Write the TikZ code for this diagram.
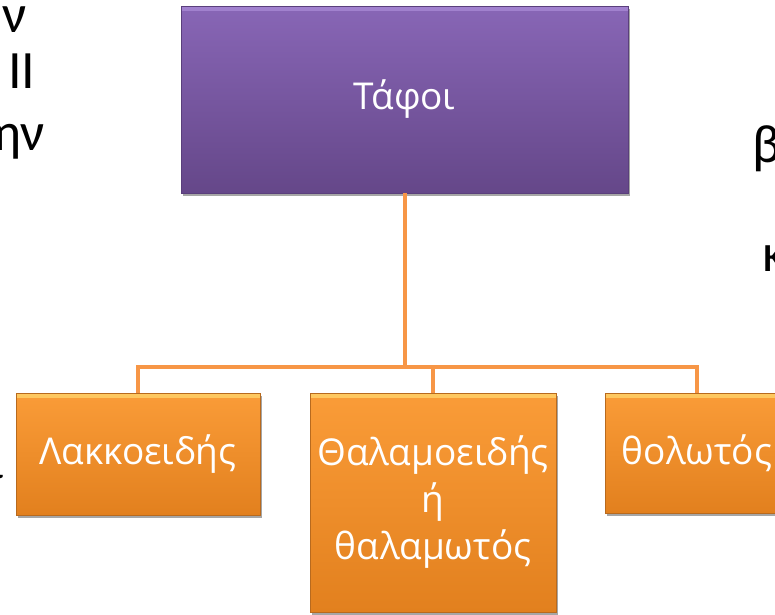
\documentclass[tikz,border=0pt]{standalone}
\usepackage{fontspec}
\setmainfont{Open Sans}
\newfontfamily\edgefont{Carlito}
\usetikzlibrary{shadows}
\definecolor{purpTop}{HTML}{8866B6}
\definecolor{purpBot}{HTML}{654789}
\definecolor{purpEdge}{HTML}{5A3F7C}
\definecolor{orTop}{HTML}{FA9C38}
\definecolor{orBot}{HTML}{E2801E}
\definecolor{orEdge}{HTML}{B86A1E}
\definecolor{connCol}{HTML}{F79646}
\definecolor{bevelOr}{HTML}{FFD36A}
\definecolor{bevelPu}{HTML}{B394E0}
\begin{document}
\begin{tikzpicture}[x=1pt,y=-1pt,
  box/.style={rectangle, inner sep=0pt, align=center, text=white,
    font=\fontsize{37}{47}\selectfont,
    drop shadow={shadow xshift=2pt,shadow yshift=-3pt,opacity=0.35,fill=black}},
  topbox/.style={box, top color=purpTop, bottom color=purpBot, draw=purpEdge, line width=0.8pt,
    path picture={\fill[bevelPu,opacity=0.6] (path picture bounding box.north west) rectangle ([yshift=-5pt]path picture bounding box.north east);}},
  childbox/.style={box, top color=orTop, bottom color=orBot, draw=orEdge, line width=0.8pt,
    path picture={\fill[bevelOr,opacity=0.8] (path picture bounding box.north west) rectangle ([yshift=-5pt]path picture bounding box.north east);}},
  connector/.style={draw=connCol, line width=4pt},
  edgetext/.style={inner sep=0pt, text=black, font=\edgefont\fontsize{54}{60}\selectfont}
]
\useasboundingbox (0,0) rectangle (775,614);
\clip (0,0) rectangle (775,614);
\fill[white] (0,0) rectangle (775,614);

% fragments of slide text cut by the frame
\node[edgetext, anchor=base east] (e1) at (27,32) {ην};
\node[edgetext, anchor=base west] (e2) at (8,88) {ΙΙ};
\node[edgetext, anchor=base east] (e3) at (45,150) {ην};
\node[edgetext, anchor=base west] (e4) at (752,162) {β};
\node[edgetext, anchor=base west] (e5) at (762,271) {κ};
\node[edgetext, anchor=base east] (e6) at (4.5,478) {ι};
\node[edgetext, anchor=north east, text=black!60] (e7) at (1.5,585) {Ι};

% boxes
\node[topbox, minimum width=447pt, minimum height=187pt] (top) at (404.5,99.5) {Τάφοι};
\node[childbox, minimum width=244pt, minimum height=122pt] (left) at (138,454) {Λακκοειδής};
\node[childbox, minimum width=246pt, minimum height=219pt] (mid) at (433,502.5) {Θαλαμοειδής\\ή\\θαλαμωτός};
\node[childbox, minimum width=184pt, minimum height=120pt] (right) at (697,453) {θολωτός};

% connectors
\coordinate (bus) at (404.5,367);
\draw[connector] (top.south) -- (bus);
\draw[connector] (left.north) |- (bus);
\draw[connector] (right.north) |- (bus);
\draw[connector] (mid.north) -- (mid.north |- bus);
\end{tikzpicture}
\end{document}
